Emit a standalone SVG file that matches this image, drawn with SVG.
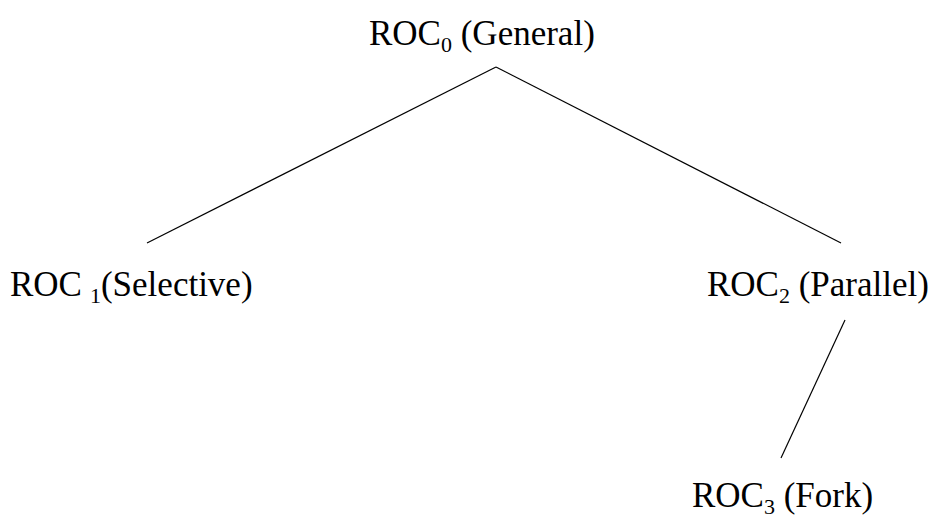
<svg xmlns="http://www.w3.org/2000/svg" width="937" height="523" viewBox="0 0 937 523">
<style>
text{font-family:"Times New Roman","Liberation Serif","DejaVu Serif",serif;font-size:35px;fill:#000}
.sub{font-size:22px}
.edge{stroke:#000;stroke-width:1.2;fill:none}
</style>
<rect width="937" height="523" fill="#fff"/>
<g id="connectors">
<line class="edge" x1="496" y1="67" x2="147" y2="243"/>
<line class="edge" x1="496" y1="67" x2="841" y2="243"/>
<line class="edge" x1="845" y1="320" x2="781" y2="458"/>
</g>
<g id="roc0"><text x="369" y="45">ROC<tspan class="sub" dy="7">0</tspan><tspan dy="-7"> (General)</tspan></text></g>
<g id="roc1"><text x="10" y="296">ROC<tspan class="sub" dx="8" dy="7">1</tspan><tspan dy="-7">(Selective)</tspan></text></g>
<g id="roc2"><text x="707" y="296">ROC<tspan class="sub" dy="7">2</tspan><tspan dy="-7"> (Parallel)</tspan></text></g>
<g id="roc3"><text x="692" y="507">ROC<tspan class="sub" dy="7">3</tspan><tspan dy="-7"> (Fork)</tspan></text></g>
</svg>
